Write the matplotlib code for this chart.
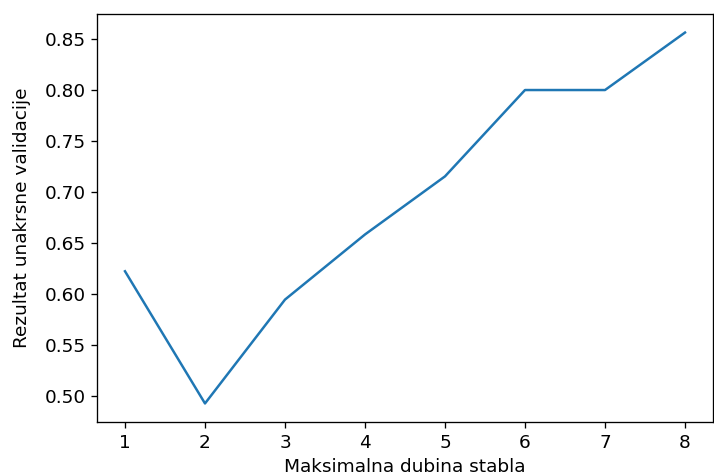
import matplotlib
matplotlib.use("Agg")
import matplotlib.pyplot as plt

# max tree depth vs cross-validation score
dubina = [1, 2, 3, 4, 5, 6, 7, 8]
rezultat = [0.6222, 0.4925, 0.5944, 0.6583, 0.7153, 0.8000, 0.8000, 0.8564]

plt.rcParams["font.size"] = 11.2

fig = plt.figure(figsize=(6, 4), dpi=119)
ax = fig.add_axes([97 / 714, 1 - 422 / 476, 616 / 714, 408 / 476])
ax.plot(dubina, rezultat, color="#1f77b4", linewidth=1.5)

ax.set_xlabel("Maksimalna dubina stabla")
ax.set_ylabel("Rezultat unakrsne validacije", labelpad=8)

fig.savefig("out.png", dpi=119)
